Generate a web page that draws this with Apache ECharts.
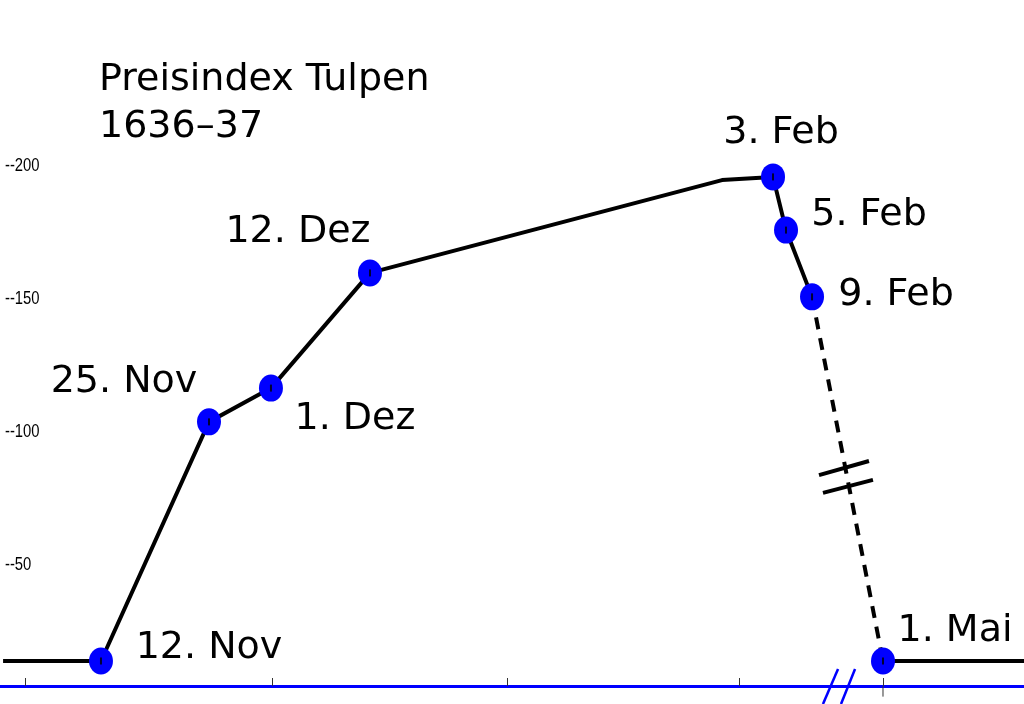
<!DOCTYPE html>
<html>
<head>
<meta charset="utf-8">
<script src="https://cdn.jsdelivr.net/npm/echarts@6/dist/echarts.min.js"></script>
<style>
  html, body { margin: 0; padding: 0; background: #fff; }
  #chart { width: 1024px; height: 704px; }
</style>
</head>
<body>
<div id="chart"></div>
<script>
// labelled dates, their position along the (non linear) time axis and the price index
const dates = ["12. Nov", "25. Nov", "1. Dez", "12. Dez", "3. Feb", "5. Feb", "9. Feb", "1. Mai"];
const datePos = [9.86, 20.41, 26.46, 36.13, 75.49, 76.76, 79.3, 86.23];
const priceIndex = [13.9, 103.8, 116.5, 159.8, 195.9, 175.9, 150.8, 13.9];

// unlabelled bends of the curve
const startPoint = [0.3, 13.9];
const bendPoint = [70.51, 194.7];
const endPoint = [100, 13.9];

// month boundaries (1. Nov, 1. Dez, 1. Jan, 1. Feb, 1. Mai) and y labels
const monthTicks = [2.44, 26.56, 49.51, 72.17, 86.23];
const yTicks = [50, 100, 150, 200];

const BLUE = "#0000ff";
const FONT = "'DejaVu Sans'";

let chartDom = document.getElementById("chart");
let myChart = echarts.init(chartDom, null, { renderer: "canvas" });

// where to put each date label relative to its dot
const labelOffsets = {
  "12. Nov": [108, -13],
  "25. Nov": [-85, -40],
  "1. Dez": [84, 31],
  "12. Dez": [-72, -41],
  "3. Feb": [8, -44],
  "5. Feb": [83, -15],
  "9. Feb": [84, -2],
  "1. Mai": [72, -30],
};

const points = dates.map(function (d, i) {
  return [datePos[i], priceIndex[i]];
});

// rising part up to 9 Feb, dashed crash, flat after 1 Mai
const riseData = [startPoint].concat(points.slice(0, 4), [bendPoint], points.slice(4, 7));
const crashData = [points[6], points[7]];
const afterData = [points[7], endPoint];

const ellipse = "path://M0,50a50,50 0 1,0 100,0a50,50 0 1,0 -100,0";

let option = {
  animation: false,
  backgroundColor: "#fff",
  title: {
    text: "Preisindex Tulpen\n1636–37",
    left: 99,
    top: 57,
    padding: 0,
    textStyle: {
      fontFamily: FONT,
      fontSize: 38,
      fontWeight: "normal",
      lineHeight: 47,
      color: "#000",
    },
  },
  grid: { left: 0, right: 0, top: 33, bottom: 18 },
  xAxis: {
    type: "value",
    min: 0,
    max: 100,
    splitLine: { show: false },
    axisLine: { show: true, lineStyle: { color: BLUE, width: 3 } },
    axisTick: {
      show: true,
      inside: true,
      length: 8,
      customValues: monthTicks,
      lineStyle: { color: "#333", width: 1 },
    },
    axisLabel: { show: false },
  },
  yAxis: {
    type: "value",
    min: 4.5,
    max: 250,
    splitLine: { show: false },
    axisLine: { show: false },
    axisTick: { show: false },
    // labels are drawn below as condensed text (no narrow font installed)
    axisLabel: { show: false },
  },
  series: [
    {
      type: "line",
      data: riseData,
      showSymbol: false,
      lineStyle: { color: "#000", width: 4 },
      z: 2,
    },
    {
      type: "line",
      data: crashData,
      showSymbol: false,
      lineStyle: { color: "#000", width: 4, type: [12, 9] },
      z: 2,
    },
    {
      type: "line",
      data: afterData,
      showSymbol: false,
      lineStyle: { color: "#000", width: 4 },
      z: 2,
    },
    {
      type: "scatter",
      symbol: ellipse,
      symbolSize: [24, 27],
      itemStyle: { color: BLUE, opacity: 1 },
      z: 3,
      data: points.map(function (p, i) {
        return {
          value: p,
          name: dates[i],
          label: {
            show: true,
            position: "inside",
            formatter: dates[i],
            offset: labelOffsets[dates[i]],
            fontFamily: FONT,
            fontSize: 38,
            color: "#000",
          },
        };
      }),
    },
    {
      // little black mark in the middle of each dot
      type: "scatter",
      symbol: "rect",
      symbolSize: [2, 7],
      itemStyle: { color: "#000" },
      z: 4,
      silent: true,
      data: points,
    },
  ],
};
myChart.setOption(option);

// break marks and y labels, placed in data units
function px(p) {
  return myChart.convertToPixel({ gridIndex: 0 }, p);
}
function seg(a, b, color, width) {
  const p1 = px(a);
  const p2 = px(b);
  return {
    type: "line",
    shape: { x1: p1[0], y1: p1[1], x2: p2[0], y2: p2[1] },
    style: { stroke: color, lineWidth: width },
    z: 10,
  };
}
let extras = [
  seg([79.98, 83.8], [84.86, 89.1], "#000", 4),
  seg([80.37, 77.1], [85.25, 82.0], "#000", 4),
  seg([81.84, 10.9], [80.37, -2.3], BLUE, 2.5),
  seg([83.5, 10.9], [82.13, -2.3], BLUE, 2.5),
  seg([86.23, 4.5], [86.23, 0.5], "#333", 1),
];
yTicks.forEach(function (v) {
  const p = px([0, v]);
  extras.push({
    type: "text",
    x: 5,
    y: p[1],
    scaleX: 0.78,
    style: {
      text: "--" + v,
      font: "19px 'Liberation Sans', Arial, sans-serif",
      fill: "#000",
      align: "left",
      verticalAlign: "middle",
    },
    z: 10,
  });
});
myChart.setOption({ graphic: extras });
</script>
</body>
</html>
